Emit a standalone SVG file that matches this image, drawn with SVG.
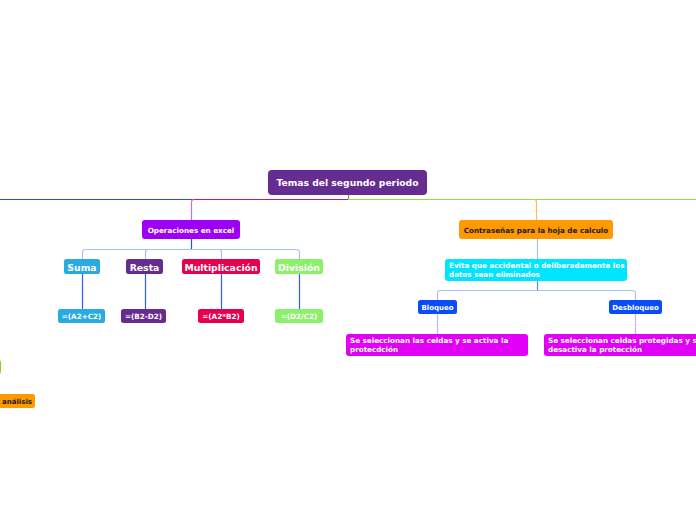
<svg xmlns="http://www.w3.org/2000/svg" width="696" height="520" viewBox="0 0 696 520">
<style>
text{font-family:"DejaVu Sans","Verdana",sans-serif;font-weight:bold;fill:#fff;}
.c{text-anchor:middle;}
.conn path,.conn line{fill:none;stroke-width:1.2;}
</style>
<rect width="696" height="520" fill="#fff"/>
<g id="connectors" class="conn">
<line x1="0" y1="199.5" x2="191" y2="199.5" stroke="#1a4ff0" stroke-width="1"/>
<line x1="191" y1="199.5" x2="348" y2="199.5" stroke="#9b17e8" stroke-width="1"/>
<line x1="348" y1="199.5" x2="696" y2="199.5" stroke="#8ee03a" stroke-width="1"/>
<line x1="348.5" y1="195" x2="348.5" y2="199" stroke="#8a9a30" stroke-width="1"/>
<path d="M194,199.5 Q191.5,199.5 191.5,202 L191.5,220" stroke="#c070f5" stroke-width="1.5"/>
<path d="M534,199.5 Q536.5,199.5 536.5,202 L536.5,220" stroke="#ffbb55" stroke-width="1.5"/>
<line x1="191.5" y1="239" x2="191.5" y2="249" stroke="#1a56f0" stroke-width="1.5"/>
<path d="M82.5,259 L82.5,252 Q82.5,249.5 85,249.5 L296,249.5 Q299.5,249.5 299.5,252 L299.5,259" stroke="#a8bff8" stroke-width="1.5"/>
<path d="M145.5,259 L145.5,252 Q145.5,249.5 148,249.5" stroke="#a8bff8" stroke-width="1.5"/>
<path d="M221.5,259 L221.5,252 Q221.5,249.5 219,249.5" stroke="#a8bff8" stroke-width="1.5"/>
<line x1="82.5" y1="274" x2="82.5" y2="309" stroke="#2a5ef2"/>
<line x1="145.5" y1="274" x2="145.5" y2="309" stroke="#2a5ef2"/>
<line x1="221.5" y1="274" x2="221.5" y2="309" stroke="#2a5ef2"/>
<line x1="299.5" y1="274" x2="299.5" y2="309" stroke="#2a5ef2"/>
<line x1="537.5" y1="239" x2="537.5" y2="259" stroke="#a8bff8" stroke-width="1.5"/>
<line x1="537.5" y1="281" x2="537.5" y2="290" stroke="#5a86f3" stroke-width="1.5"/>
<path d="M437.5,300 L437.5,293 Q437.5,290.5 440,290.5 L632,290.5 Q635.5,290.5 635.5,293 L635.5,300" stroke="#a8bff8" stroke-width="1.5"/>
<line x1="437.5" y1="314" x2="437.5" y2="334" stroke="#a8bff8"/>
<line x1="635.5" y1="314" x2="635.5" y2="334" stroke="#e0a8f5"/>
</g>
<g id="n-central"><rect x="268" y="170" width="159" height="25" rx="4" fill="#662d91"/><text class="c" x="347.5" y="186" font-size="9.2">Temas del segundo periodo</text></g>
<g id="n-operaciones"><rect x="142" y="220" width="98" height="19" rx="3" fill="#9c00f5"/><text class="c" x="191" y="232.5" font-size="7.2">Operaciones en excel</text></g>
<g id="n-suma"><rect x="64" y="259" width="36" height="15" rx="2.5" fill="#29abe2"/><text class="c" x="82" y="270.5" font-size="9.3">Suma</text></g>
<g id="n-resta"><rect x="126" y="259" width="37" height="15" rx="2.5" fill="#662d91"/><text class="c" x="144.5" y="270.5" font-size="9.3">Resta</text></g>
<g id="n-mult"><rect x="182" y="259" width="78" height="15" rx="2.5" fill="#e6004d"/><text class="c" x="221" y="270.5" font-size="9.3">Multiplicación</text></g>
<g id="n-div"><rect x="275" y="259" width="48" height="15" rx="2.5" fill="#8cf06b"/><text class="c" x="299" y="270.5" font-size="9.3">División</text></g>
<g id="n-f1"><rect x="58" y="309" width="47" height="14" rx="2.5" fill="#29abe2"/><text class="c" x="81.5" y="319" font-size="7.2">=(A2+C2)</text></g>
<g id="n-f2"><rect x="121" y="309" width="45" height="14" rx="2.5" fill="#662d91"/><text class="c" x="143.5" y="319" font-size="7.2">=(B2-D2)</text></g>
<g id="n-f3"><rect x="198" y="309" width="46" height="14" rx="2.5" fill="#e6004d"/><text class="c" x="221" y="319" font-size="7.2">=(A2*B2)</text></g>
<g id="n-f4"><rect x="275" y="309" width="48" height="14" rx="2.5" fill="#8cf06b"/><text class="c" x="299" y="319" font-size="7.2">=(D2/C2)</text></g>
<g id="n-contra"><rect x="459" y="220" width="154" height="19" rx="3" fill="#ff9900"/><text class="c" x="536" y="232.5" font-size="7.2" style="fill:#1a1a1a">Contraseñas para la hoja de calculo</text></g>
<g id="n-evita"><rect x="445" y="259" width="182" height="22" rx="3" fill="#00e5ff"/><text x="449" y="268" font-size="7.2">Evita que accidental o deliberadamente los</text><text x="449" y="277" font-size="7.2">datos sean eliminados</text></g>
<g id="n-bloqueo"><rect x="418" y="300" width="39" height="14" rx="2.5" fill="#0a4cf5"/><text class="c" x="437.5" y="310" font-size="7">Bloqueo</text></g>
<g id="n-desbloqueo"><rect x="609" y="300" width="53" height="14" rx="2.5" fill="#0a4cf5"/><text class="c" x="635.5" y="310" font-size="7">Desbloqueo</text></g>
<g id="n-sel1"><rect x="346" y="334" width="182" height="22" rx="3" fill="#e100f5"/><text x="350" y="343" font-size="7.2">Se seleccionan las celdas y se activa la</text><text x="350" y="352" font-size="7.2">protecdción</text></g>
<g id="n-sel2"><rect x="544" y="334" width="160" height="22" rx="3" fill="#e100f5"/><text x="548" y="343" font-size="7.2">Se seleccionan celdas protegidas y se</text><text x="548" y="352" font-size="7.2">desactiva la protección</text></g>
<g id="n-left-green"><rect x="-20" y="360" width="21" height="14" rx="2.5" fill="#7fe000"/></g>
<g id="n-left-analisis"><rect x="-30" y="394" width="65" height="14" rx="2.5" fill="#ff9900"/><text x="2" y="404" font-size="7" style="fill:#1a1a1a">análisis</text></g>
</svg>
